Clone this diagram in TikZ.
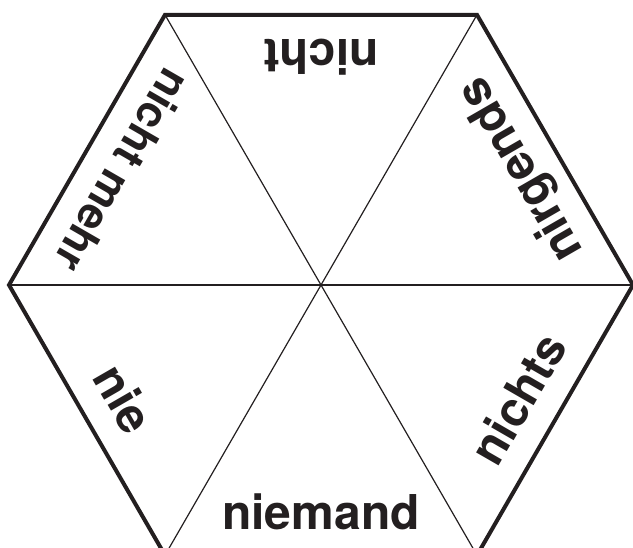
\documentclass[tikz,border=0pt]{standalone}
\usepackage{fontspec}
\setmainfont{TeX Gyre Heros}
\usetikzlibrary{calc}
\definecolor{ink}{HTML}{231F20}
\begin{document}
\begin{tikzpicture}[x=1pt,y=1pt,
  rim/.style={draw=ink,line width=4pt,line join=miter},
  spoke/.style={draw=ink,line width=1.2pt},
  lbl/.style={text=ink,font=\fontsize{48}{48}\selectfont\bfseries,inner sep=0pt,anchor=base}]
\useasboundingbox (0,0) rectangle (633,-548);
\clip (0,0) rectangle (633,-548);
\coordinate (c) at (321,-285);
\foreach \i in {0,...,5}{
  \coordinate (v\i) at ($(c)+(\i*60:312)$);
}
\foreach \i in {0,...,5}{
  \draw[spoke] (c) -- (v\i);
}
\draw[rim] (v0) -- (v1) -- (v2) -- (v3) -- (v4) -- (v5) -- cycle;
\node[lbl,rotate=0]   (t0) at ($(c)+(-90:245)$) {niemand};
\node[lbl,rotate=60]  (t1) at ($(c)+(-30:245)$) {nichts};
\node[lbl,rotate=120] (t2) at ($(c)+(30:245)$) {nirgends};
\node[lbl,rotate=180] (t3) at ($(c)+(90:245)$) {nicht};
\node[lbl,rotate=240,font=\fontsize{44}{44}\selectfont\bfseries] (t4) at ($(c)+(150:245)$) {nicht mehr};
\node[lbl,rotate=300] (t5) at ($(c)+(210:245)$) {nie};
\end{tikzpicture}
\end{document}
